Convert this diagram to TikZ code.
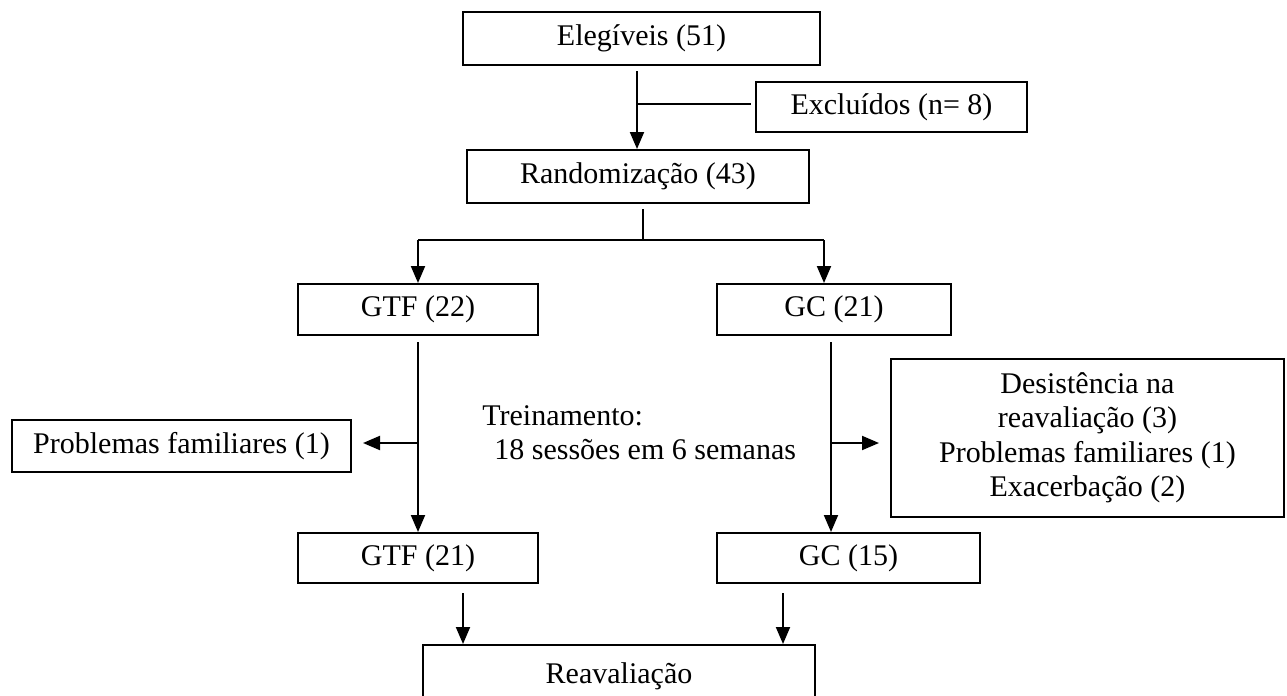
\documentclass[tikz,border=0pt]{standalone}
\usepackage{fontspec}
\setmainfont{Liberation Serif}
\usetikzlibrary{arrows.meta}
\begin{document}
\begin{tikzpicture}[x=0.5pt,y=-0.5pt,
  box/.style={draw, line width=1pt, inner sep=0pt, align=center, font=\fontsize{15}{17.25}\selectfont},
  conn/.style={line width=1pt},
  arr/.style={line width=1pt, -{Triangle[length=8.5pt,width=7pt]}},
  lbl/.style={inner sep=0pt, align=left, font=\fontsize{15}{17}\selectfont}]
\useasboundingbox (0,0) rectangle (1287,696);
\node[box, minimum width=178.5pt, minimum height=26.5pt] (eleg) at (641.5,38.5) {Elegíveis (51)};
\node[box, minimum width=135.5pt, minimum height=25pt] (excl) at (891.5,107) {Excluídos (n= 8)};
\node[box, minimum width=171pt, minimum height=26.5pt] (rand) at (638,176.5) {Randomização (43)};
\node[box, minimum width=120pt, minimum height=25.5pt] (gtfa) at (418,309.5) {GTF (22)};
\node[box, minimum width=117pt, minimum height=25.5pt] (gca) at (834,309.5) {GC (21)};
\node[box, minimum width=169.5pt, minimum height=26pt] (probl) at (181.5,446) {Problemas familiares (1)};
\node[box, minimum width=196.5pt, minimum height=79pt] (drop) at (1087.5,438) {Desistência na\\reavaliação (3)\\Problemas familiares (1)\\Exacerbação (2)};
\node[box, minimum width=120pt, minimum height=25pt] (gtfb) at (418,558) {GTF (21)};
\node[box, minimum width=131.5pt, minimum height=25pt] (gcb) at (848.5,558) {GC (15)};
\node[box, minimum width=196pt, minimum height=31pt] (reav) at (619,676) {Reavaliação};
\node[lbl, anchor=base west] (trein) at (482,459) {Treinamento:\\\hspace*{6pt}18 sessões em 6 semanas};
% connectors
\coordinate (j1) at (637,104);
\draw[arr, shorten <=2.5pt] (eleg.south -| j1) -- (rand.north -| j1);
\draw[conn, shorten >=2pt] (j1) -- (j1 -| excl.west);
\coordinate (j2) at (643,240);
\coordinate (jl) at (418,240);
\coordinate (jr) at (824,240);
\draw[conn, shorten <=2.5pt] (rand.south -| j2) -- (j2);
\draw[conn] (jl) -- (jr);
\draw[arr] (jl) -- (gtfa.north -| jl);
\draw[arr] (jr) -- (gca.north -| jr);
\coordinate (b1) at (418,443);
\coordinate (b2) at (831,443);
\draw[arr, shorten <=3pt] (gtfa.south -| b1) -- (gtfb.north -| b1);
\draw[arr, shorten >=5.5pt] (b1) -- (b1 -| probl.east);
\draw[arr, shorten <=3pt] (gca.south -| b2) -- (gcb.north -| b2);
\draw[arr, shorten >=5.5pt] (b2) -- (b2 -| drop.west);
\coordinate (r1) at (463,600);
\coordinate (r2) at (783,600);
\draw[arr, shorten <=4.5pt] (gtfb.south -| r1) -- (reav.north -| r1);
\draw[arr, shorten <=4.5pt] (gcb.south -| r2) -- (reav.north -| r2);
\end{tikzpicture}
\end{document}
